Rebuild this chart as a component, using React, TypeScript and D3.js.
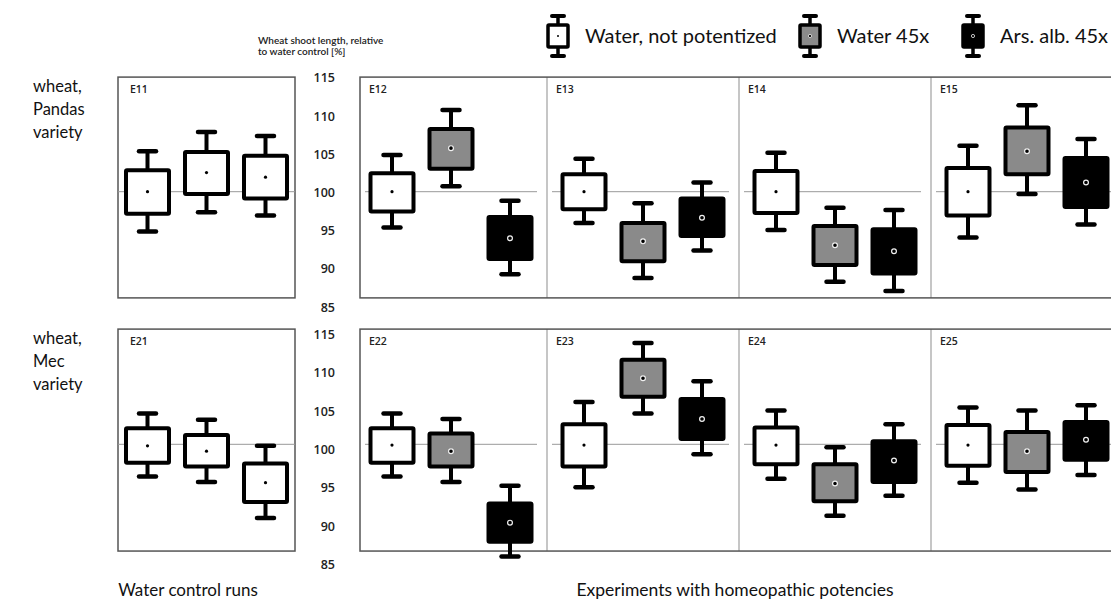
import React from "react";
import * as d3 from "d3";

// box colours per treatment
const conditions = ["Water, not potentized", "Water 45x", "Ars. alb. 45x"];
const fills = ["#ffffff", "#8a8a8a", "#000000"];

const rowLabels = [
  ["wheat,", "Pandas", "variety"],
  ["wheat,", "Mec", "variety"],
];
const yTicks = [85, 90, 95, 100, 105, 110, 115];

// [low whisker, q1, median, q3, high whisker]
const E11 = [[94.8, 97.1, 100.0, 102.8, 105.3], [97.3, 99.7, 102.5, 105.2, 107.8], [96.9, 99.1, 101.9, 104.7, 107.3]];
const E12 = [[95.3, 97.4, 100.0, 102.4, 104.8], [100.7, 103.0, 105.7, 108.2, 110.7], [89.2, 91.2, 93.9, 96.7, 98.8]];
const E13 = [[95.9, 97.7, 100.0, 102.3, 104.3], [88.7, 90.9, 93.5, 95.9, 98.5], [92.3, 94.2, 96.6, 99.1, 101.2]];
const E14 = [[95.0, 97.2, 100.0, 102.7, 105.1], [88.2, 90.4, 93.0, 95.5, 97.9], [87.0, 89.3, 92.2, 95.1, 97.6]];
const E15 = [[94.0, 96.9, 100.0, 103.1, 106.0], [99.7, 102.3, 105.3, 108.4, 111.3], [95.7, 98.0, 101.2, 104.4, 106.9]];
const E21 = [[95.8, 97.6, 99.8, 102.1, 104.0], [95.1, 97.1, 99.1, 101.2, 103.2], [90.4, 92.5, 95.0, 97.5, 99.8]];
const E22 = [[95.8, 97.6, 99.9, 102.1, 104.0], [95.1, 97.1, 99.1, 101.4, 103.3], [85.4, 87.3, 89.8, 92.3, 94.6]];
const E23 = [[94.4, 97.1, 99.9, 102.6, 105.5], [104.0, 106.2, 108.6, 111.0, 113.2], [98.7, 100.7, 103.3, 105.9, 108.2]];
const E24 = [[95.5, 97.4, 99.9, 102.2, 104.4], [90.7, 92.6, 94.9, 97.4, 99.6], [93.3, 95.1, 97.9, 100.4, 102.6]];
const E25 = [[95.0, 97.2, 99.9, 102.5, 104.8], [94.1, 96.4, 99.1, 101.6, 104.4], [96.0, 98.0, 100.6, 102.9, 105.1]];

const controlRuns = [["E11", E11], ["E21", E21]] as [string, number[][]][];
const potencyRuns = [
  [["E12", E12], ["E13", E13], ["E14", E14], ["E15", E15]],
  [["E22", E22], ["E23", E23], ["E24", E24], ["E25", E25]],
] as [string, number[][]][][];

const W = 1111;
const H = 606;
const font = "Lato, 'Open Sans', sans-serif";
const tickFont = "'Open Sans', sans-serif";

const rowY = [
  d3.scaleLinear([85, 115], [306.3, 77.1]),
  d3.scaleLinear([85, 115], [559.5, 329.1]),
];
const tickShift = [1, 5.3];
const frameBottom = 86.1;

const boxOffset = d3.scalePoint<number>().domain([0, 1, 2]).range([-59, 59]);
const controlX = d3.scaleLinear([0, 1], [118, 295]);
const panelCenter = d3.scaleLinear([0, 3], [451, 1027]);
const panelHalf = 96;
const potencyLeft = 360;

function BoxGlyph({ cx, y, s, fill }: { cx: number; y: (v: number) => number; s: number[]; fill: string }) {
  const [lo, q1, med, q3, hi] = s;
  const bw = 43;
  return (
    <g>
      <line x1={cx} x2={cx} y1={y(lo)} y2={y(hi)} stroke="#000" strokeWidth={4} />
      <line x1={cx - 8.5} x2={cx + 8.5} y1={y(hi)} y2={y(hi)} stroke="#000" strokeWidth={4.5} strokeLinecap="round" />
      <line x1={cx - 8.5} x2={cx + 8.5} y1={y(lo)} y2={y(lo)} stroke="#000" strokeWidth={4.5} strokeLinecap="round" />
      <rect x={cx - bw / 2} y={y(q3)} width={bw} height={y(q1) - y(q3)} fill={fill} stroke="#000" strokeWidth={4} rx={1} />
      {fill === "#ffffff" ? (
        <circle cx={cx} cy={y(med)} r={1.6} fill="#000" />
      ) : (
        <circle cx={cx} cy={y(med)} r={2.4} fill="#000" stroke="#f2f2f2" strokeWidth={1.2} />
      )}
    </g>
  );
}

function LegendIcon({ cx, cy, fill }: { cx: number; cy: number; fill: string }) {
  return (
    <g>
      <line x1={cx} x2={cx} y1={cy - 20} y2={cy + 20} stroke="#000" strokeWidth={3.5} />
      <line x1={cx - 6} x2={cx + 6} y1={cy - 20} y2={cy - 20} stroke="#000" strokeWidth={4} strokeLinecap="round" />
      <line x1={cx - 6} x2={cx + 6} y1={cy + 20} y2={cy + 20} stroke="#000" strokeWidth={4} strokeLinecap="round" />
      <rect x={cx - 10} y={cy - 11} width={20} height={22} fill={fill} stroke="#000" strokeWidth={3.5} rx={1} />
      {fill === "#ffffff" ? (
        <circle cx={cx} cy={cy} r={1} fill="#000" />
      ) : (
        <circle cx={cx} cy={cy} r={1.6} fill="#000" stroke="#eee" strokeWidth={0.8} />
      )}
    </g>
  );
}

export default function App() {
  const legendX = [558, 810, 973];
  return (
    <svg width={W} height={H} style={{ position: "absolute", left: 0, top: 0, background: "#fff" }}>
      {/* axis title */}
      <text x={258} y={44} fontFamily={font} fontWeight={600} fontSize={10} fill="#222">Wheat shoot length, relative</text>
      <text x={258} y={54.5} fontFamily={font} fontWeight={600} fontSize={10} fill="#222">to water control [%]</text>

      {/* legend */}
      {conditions.map((c, i) => (
        <g key={c}>
          <LegendIcon cx={legendX[i]} cy={36} fill={fills[i]} />
          <text x={legendX[i] + 27} y={43} fontFamily={font} fontSize={20} fill="#111">{c}</text>
        </g>
      ))}

      {rowY.map((y, r) => {
        const top = y(115);
        const bottom = y(frameBottom);
        const y100 = y(100);
        const [cName, cData] = controlRuns[r];
        return (
          <g key={r}>
            {rowLabels[r].map((t, k) => (
              <text key={k} x={33} y={top + 15 + k * 23} fontFamily={font} fontSize={16.5} fill="#111">{t}</text>
            ))}

            {/* control panel */}
            <rect x={controlX(0)} y={top} width={controlX(1) - controlX(0)} height={bottom - top} fill="none" stroke="#555" strokeWidth={1.5} />
            <line x1={controlX(0)} x2={controlX(1)} y1={y100} y2={y100} stroke="#999" strokeWidth={1} />
            <text x={controlX(0) + 12} y={top + 16} fontFamily={tickFont} fontWeight={600} fontSize={10.5} fill="#222">{cName}</text>
            {cData.map((s, i) => (
              <BoxGlyph key={i} cx={(controlX(0) + controlX(1)) / 2 + (boxOffset(i) as number)} y={y} s={s} fill={fills[0]} />
            ))}

            {/* tick labels */}
            {yTicks.map((t) => (
              <text key={t} x={335} y={y(t) + tickShift[r]} dy="0.35em" textAnchor="end" fontFamily={tickFont} fontWeight={600} fontSize={12.5} fill="#222">{t}</text>
            ))}

            {/* potency panels */}
            {potencyRuns[r].map(([name], p) => {
              const right = panelCenter(p) + panelHalf;
              const left = p === 0 ? potencyLeft : panelCenter(p) - panelHalf;
              return (
                <g key={name}>
                  {p < 3 && <line x1={right} x2={right} y1={top} y2={bottom} stroke="#b3b3b3" strokeWidth={1.5} />}
                  <line x1={left + 5} x2={p < 3 ? right - 10 : W} y1={y100} y2={y100} stroke="#999" strokeWidth={1} />
                  <text x={left + 9} y={top + 16} fontFamily={tickFont} fontWeight={600} fontSize={10.5} fill="#222">{name}</text>
                </g>
              );
            })}
            <rect x={potencyLeft} y={top} width={W + 20 - potencyLeft} height={bottom - top} fill="none" stroke="#555" strokeWidth={1.5} />
            {potencyRuns[r].map(([name, data], p) =>
              data.map((s, i) => (
                <BoxGlyph key={name + i} cx={panelCenter(p) + (boxOffset(i) as number)} y={y} s={s} fill={fills[i]} />
              ))
            )}
          </g>
        );
      })}

      <text x={188} y={596} textAnchor="middle" fontFamily={font} fontSize={17} fill="#111">Water control runs</text>
      <text x={735} y={596} textAnchor="middle" fontFamily={font} fontSize={17.5} fill="#111">Experiments with homeopathic potencies</text>
    </svg>
  );
}
